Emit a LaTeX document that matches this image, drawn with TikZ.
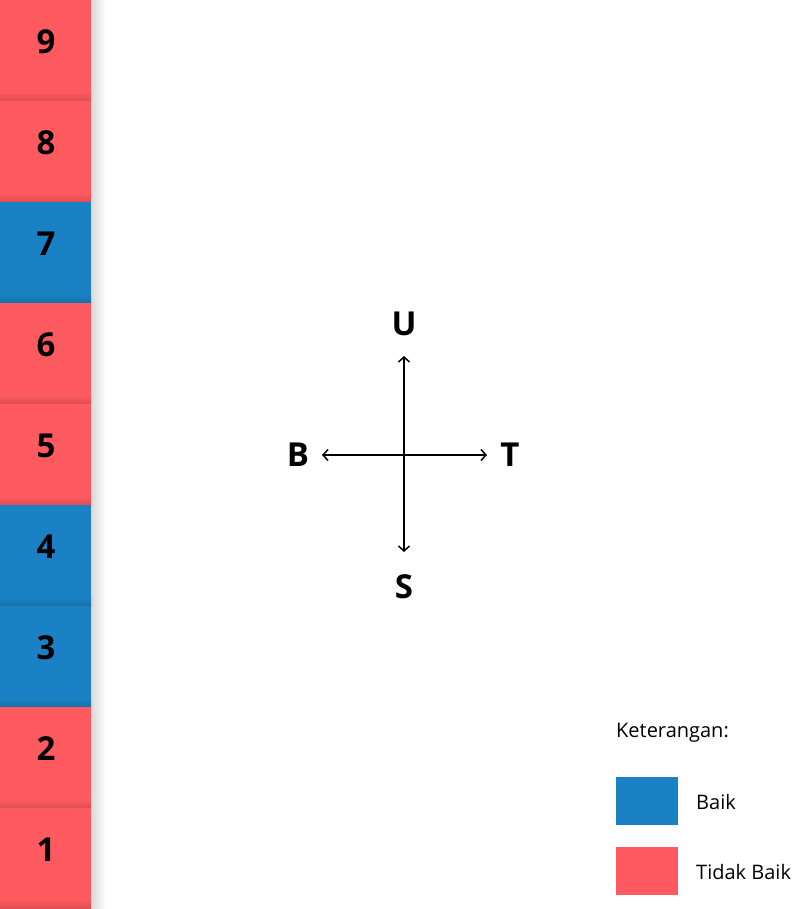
\documentclass[tikz,border=0pt]{standalone}
\usepackage{fontspec}
\setmainfont{Open Sans}
\usetikzlibrary{arrows.meta}
\definecolor{bad}{HTML}{FF5A5F}
\definecolor{good}{HTML}{1A82C4}
\tikzset{
  digit/.style={font=\fontsize{33}{36}\selectfont\bfseries, text=black, inner sep=0pt},
  dirlabel/.style={font=\fontsize{33}{36}\selectfont\bfseries, text=black, inner sep=0pt},
  compass/.style={line width=1.5pt, {Straight Barb[length=5pt,width=11pt]}-{Straight Barb[length=5pt,width=11pt]}},
  legtext/.style={font=\fontsize{20}{24}\selectfont, text=black, anchor=west, inner sep=0pt},
}
\begin{document}
\begin{tikzpicture}[x=1pt,y=-1pt]
\useasboundingbox (0,0) rectangle (810,909);
\fill[white] (0,0) rectangle (810,909);
% right shadow of the column
\shade[left color=black!15, right color=white] (91,0) rectangle (106,909);
% boxes
\foreach \k/\c in {9/bad,8/bad,7/good,6/bad,5/bad,4/good,3/good,2/bad,1/bad}{
  \pgfmathsetmacro{\top}{909-\k*101}
  \pgfmathsetmacro{\bot}{909-(\k-1)*101}
  \fill[\c] (0,\top) rectangle (91,\bot);
  \shade[top color=\c, bottom color=\c!86!black] (0,\bot-9) rectangle (91,\bot);
  \node[digit] (n\k) at (46,{(\top+\bot)/2-9}) {\k};
}
% compass
\coordinate (cn) at (404,356);
\coordinate (cs) at (404,552);
\coordinate (cw) at (322,455);
\coordinate (ce) at (487,455);
\draw[compass] (cs) -- (cn);
\draw[compass] (cw) -- (ce);
\node[dirlabel] (U) at (404,324) {U};
\node[dirlabel] (S) at (404,587) {S};
\node[dirlabel] (B) at (298,455) {B};
\node[dirlabel] (T) at (510,455) {T};
% legend
\node[legtext] (ket) at (616,733) {Keterangan:};
\fill[good] (616,777) rectangle (678,825);
\node[legtext] (baik) at (696,802) {Baik};
\fill[bad] (616,847) rectangle (678,895);
\node[legtext] (tbaik) at (696,872) {Tidak Baik};
\end{tikzpicture}
\end{document}
